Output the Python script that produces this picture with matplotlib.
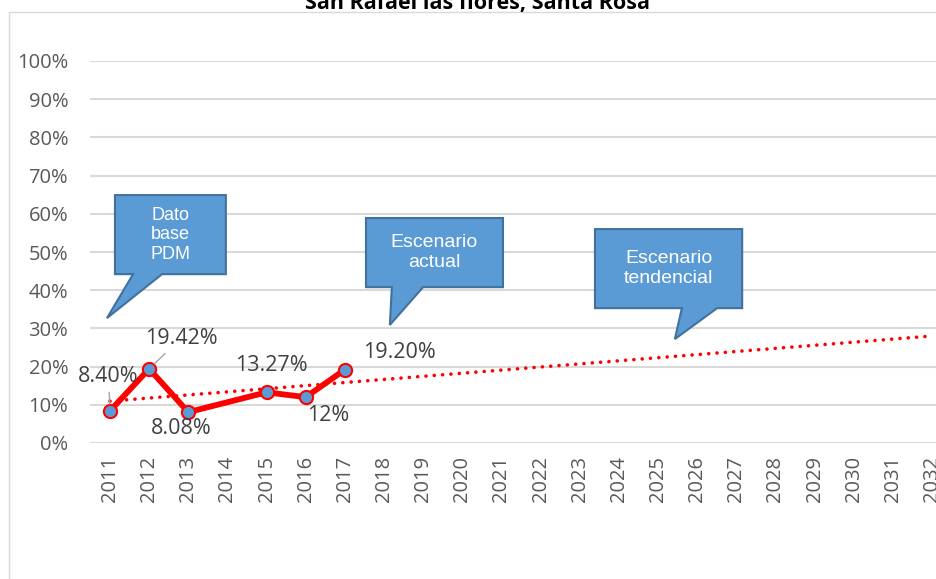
import matplotlib
matplotlib.use("Agg")
import matplotlib.pyplot as plt
from matplotlib.patches import Polygon, Rectangle
import numpy as np

# datos
years = ["2011", "2012", "2013", "2014", "2015", "2016", "2017", "2018", "2019", "2020", "2021",
         "2022", "2023", "2024", "2025", "2026", "2027", "2028", "2029", "2030", "2031", "2032"]
values = [8.40, 19.42, 8.08, None, 13.27, 12.00, 19.20]
value_labels = ["8.40%", "19.42%", "8.08%", "", "13.27%", "12%", "19.20%"]
yticks = [0, 10, 20, 30, 40, 50, 60, 70, 80, 90, 100]
title = "San Rafael las flores, Santa Rosa"

# offsets de las etiquetas (puntos) y si llevan linea guia
label_offsets = [(-1, 25), (23, 22), (-5, -12), (0, 0), (3.5, 19.5), (16, -13), (39, 12.7)]
label_leader = [True, True, False, False, False, False, False]

plt.rcParams["font.family"] = ["Open Sans", "DejaVu Sans"]

fig = plt.figure(figsize=(9.37, 5.79), dpi=100)
W, H = 937.0, 579.0

# borde del area del grafico
fig.patches.append(Rectangle((9 / W, -0.1), 1.2, 1.1 - 12 / H, transform=fig.transFigure,
                             fill=False, edgecolor="#D9D9D9", lw=1.0))

fig.text(478 / W, 1 - 9 / H, title, ha="center", va="baseline", fontsize=15.5,
         fontweight="bold", color="#000000")

ax = fig.add_axes([90.4 / W, (H - 443) / H, (951.6 - 90.4) / W, (443 - 61) / H])
ax.set_xlim(-0.5, len(years) - 0.5)
ax.set_ylim(0, 100)
for s in ax.spines.values():
    s.set_visible(False)
ax.set_yticks(yticks)
ax.set_yticklabels([f"{v}%" for v in yticks])
ax.set_xticks(range(len(years)))
ax.set_xticklabels(years, rotation=90)
ax.tick_params(axis="y", length=0, pad=16, labelsize=14.5, labelcolor="#595959")
ax.tick_params(axis="x", length=0, pad=9, labelsize=14.5, labelcolor="#595959")
ax.grid(axis="y", color="#D9D9D9", lw=1.5)
ax.set_axisbelow(True)

x_obs = np.array([i for i, v in enumerate(values) if v is not None])
y_obs = np.array([v for v in values if v is not None])

# linea de tendencia (lineal, como en Excel)
m, b = np.polyfit(x_obs, y_obs, 1)
xt = np.arange(len(years))
ax.plot(xt, m * xt + b, color="#FF0000", lw=2.6, linestyle=(0, (0.01, 2.3)),
        dash_capstyle="round", zorder=4, clip_on=False)

ax.plot(x_obs, y_obs, color="#FF0000", lw=4.2, marker="o", markersize=9.5,
        markerfacecolor="#5B9BD5", markeredgecolor="#FF0000", markeredgewidth=1.5,
        zorder=5, solid_joinstyle="round")

for i, v in enumerate(values):
    if v is None:
        continue
    dx, dy = label_offsets[i]
    ap = None
    if label_leader[i]:
        ap = dict(arrowstyle="-", color="#A6A6A6", lw=1.0, shrinkA=2, shrinkB=5)
    ax.annotate(value_labels[i], (i, v), xytext=(dx, dy), textcoords="offset points",
                ha="center", va="center", fontsize=15.5, color="#404040",
                arrowprops=ap, zorder=6)


def callout(ax, x0, x1, y0, y1, tb0, tb1, tip, text, size):
    pts = [(x0, y1), (x1, y1), (x1, y0), (tb1, y0), tip, (tb0, y0), (x0, y0)]
    ax.add_patch(Polygon(pts, closed=True, facecolor="#5B9BD5", edgecolor="#41719C",
                         lw=1.5, zorder=3, clip_on=False))
    ax.text((x0 + x1) / 2, (y0 + y1) / 2, text, ha="center", va="center", color="white",
            fontsize=size, family="Liberation Sans", linespacing=1.2, zorder=3.5)


callout(ax, 0.128, 2.96, 44.2, 64.9, 0.59, 1.33, (-0.077, 32.7), "Dato\nbase\nPDM", 13)
callout(ax, 6.54, 10.04, 40.8, 58.9, 7.2, 8.0, (7.15, 30.9), "Escenario\nactual", 14)
callout(ax, 12.39, 16.15, 35.3, 56.0, 14.61, 15.51, (14.43, 27.2), "Escenario\ntendencial", 14)

fig.savefig("out.png", dpi=100)
